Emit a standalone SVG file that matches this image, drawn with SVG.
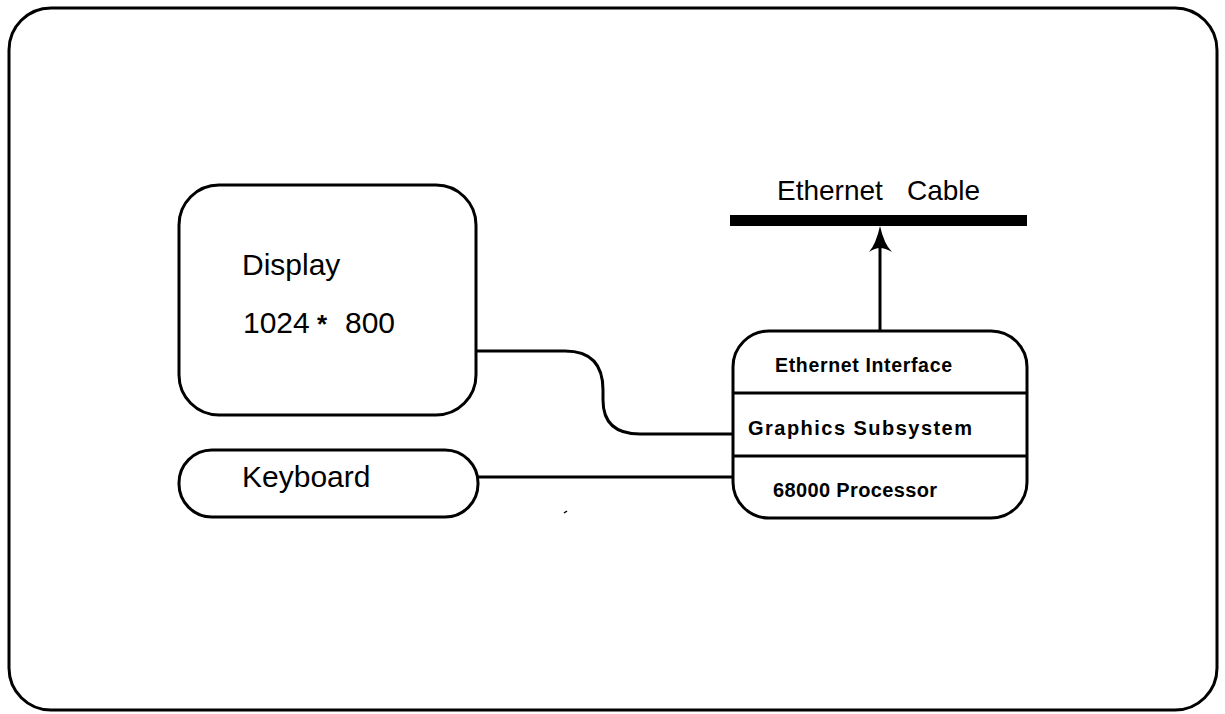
<svg xmlns="http://www.w3.org/2000/svg" width="1225" height="714" viewBox="0 0 1225 714">
<style>
.box{fill:none;stroke:#000;stroke-width:3}
.ln{fill:none;stroke:#000;stroke-width:3}
.t{font-family:"Liberation Sans",Arial,sans-serif;fill:#000}
.b{font-family:"Liberation Sans",Arial,sans-serif;font-weight:bold;fill:#000}
</style>
<rect width="1225" height="714" fill="#fff"/>
<rect x="9" y="8" width="1208" height="702" rx="42" ry="42" class="box"/>
<g id="connectors">
<path class="ln" d="M476,351 H565 Q603,351 603,390 V400 Q603,434 640,434 H733"/>
<path class="ln" d="M478,477 H733"/>
<path class="ln" d="M880,331 V245"/>
<path d="M880,226 Q876,244 869,252 Q875,248 880,248 Q885,248 892,252 Q884,244 880,226 Z" fill="#000"/>
<path d="M564,513 L567,511" stroke="#000" stroke-width="1.5"/>
</g>
<g id="ethernet-cable">
<rect x="730" y="215" width="297" height="11" fill="#000"/>
<text x="777" y="200" class="t" font-size="28">Ethernet</text>
<text x="907" y="200" class="t" font-size="28">Cable</text>
</g>
<g id="display">
<rect x="179" y="185" width="297" height="230" rx="40" ry="40" class="box"/>
<text x="242" y="275" class="t" font-size="30">Display</text>
<text x="243" y="333" class="t" font-size="30">1024</text>
<text x="317" y="333" class="b" font-size="26">*</text>
<text x="345" y="333" class="t" font-size="30">800</text>
</g>
<g id="keyboard">
<rect x="179" y="450" width="299" height="67" rx="33" ry="33" class="box"/>
<text x="242" y="487" class="t" font-size="30">Keyboard</text>
</g>
<g id="workstation">
<rect x="733" y="331" width="294" height="187" rx="36" ry="36" class="box"/>
<line x1="733" y1="393" x2="1027" y2="393" class="ln"/>
<line x1="733" y1="456" x2="1027" y2="456" class="ln"/>
<text x="775" y="372" class="b" font-size="19.5" textLength="177" lengthAdjust="spacing">Ethernet Interface</text>
<text x="748" y="435" class="b" font-size="20" textLength="224" lengthAdjust="spacing">Graphics  Subsystem</text>
<text x="773" y="497" class="b" font-size="20" textLength="164" lengthAdjust="spacing">68000 Processor</text>
</g>
</svg>
